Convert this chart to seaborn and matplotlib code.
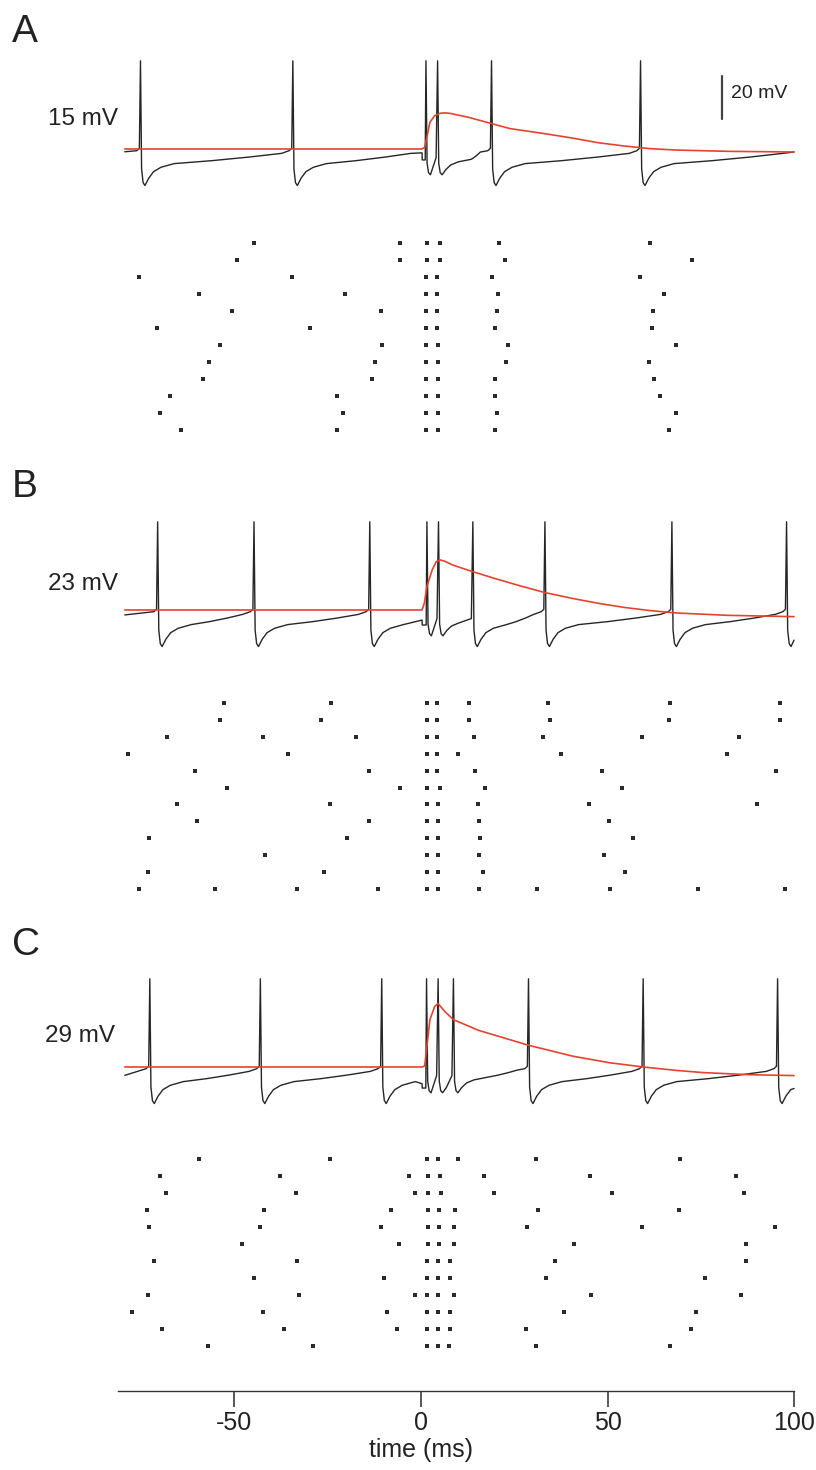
import seaborn as sns
import matplotlib.pyplot as plt
import numpy as np
import pandas as pd

# Membrane potential traces (black), EPSP alone (red) and spike rasters
# for three input sizes: 15, 23 and 29 mV.

panel_names = ["A", "B", "C"]
input_sizes = ["15 mV", "23 mV", "29 mV"]

# spike times of the example trace in each panel (ms)
spikes_a = [-75.1, -34.3, 1.34, 4.46, 18.9, 58.8]
spikes_b = [-70.5, -44.7, -13.7, 1.6, 4.7, 13.9, 33.2, 67.2, 97.9]
spikes_c = [-72.6, -43.0, -10.5, 1.5, 4.6, 8.7, 28.8, 59.5, 95.5]

start_mv = [-1.3, -2.3, -3.9]
pre_stim_mv = [-1.8, -4.7, -7.8]
post_stim_mv = [-5.1, -7.0, -9.8]
end_mv = [-1.4, -14.0, -10.0]

# EPSP alone (red traces)
epsp_a_t = [-79.3, 0.3, 1.0, 1.6, 2.4, 3.7, 5.1, 6.5, 8.0, 12.8, 18.7, 23.8, 33.6, 40.5, 47.5, 54.4, 61.4, 68.4, 82.3, 99.9]
epsp_a_mv = [0, 0, 0.8, 5.5, 12.4, 15.5, 16.6, 16.8, 16.5, 14.7, 11.9, 9.5, 7.0, 5.1, 2.9, 1.4, 0.15, -0.5, -1.1, -1.4]
epsp_b_t = [-79.3, 0.3, 0.9, 1.6, 3.0, 4.1, 5.1, 6.5, 8.5, 13.9, 19.7, 26.6, 33.2, 40.5, 47.5, 54.4, 61.4, 68.4, 82.3, 99.9]
epsp_b_mv = [0, 0, 3.1, 10.9, 18.6, 22.5, 23.3, 22.6, 20.9, 17.8, 14.7, 11.2, 8.1, 5.4, 3.1, 1.2, -0.3, -1.4, -2.5, -3.1]
epsp_c_t = [-79.3, 0.3, 1.0, 1.5, 2.4, 3.7, 4.6, 6.5, 8.7, 15.5, 23.8, 28.8, 40.7, 50.4, 59.5, 68.4, 75.5, 88.0, 99.9]
epsp_c_mv = [0, 0, 0.5, 8.0, 22.0, 28.2, 29.5, 25.6, 22.0, 17.0, 12.7, 10.1, 5.0, 2.0, 0, -1.6, -2.6, -3.6, -4.0]

# rasters: spike times for 12 trials per panel (ms)
raster_a = [
    [-44.6, -5.7, 1.7, 5.1, 21.0, 61.4],
    [-49.3, -5.7, 1.7, 5.1, 22.6, 72.6],
    [-75.4, -34.4, 1.3, 4.2, 18.9, 58.7],
    [-59.5, -20.3, 1.3, 4.2, 20.7, 65.2],
    [-50.6, -10.8, 1.3, 4.2, 20.4, 62.2],
    [-70.8, -29.6, 1.3, 4.2, 19.7, 61.9],
    [-53.8, -10.3, 1.3, 4.6, 23.2, 68.3],
    [-56.8, -12.2, 1.3, 4.6, 22.9, 61.0],
    [-58.4, -13.1, 1.3, 4.6, 19.9, 62.5],
    [-67.2, -22.4, 1.3, 4.6, 19.9, 63.9],
    [-69.9, -21.0, 1.3, 4.6, 20.4, 68.3],
    [-64.3, -22.4, 1.3, 4.6, 19.7, 66.3],
]
raster_b = [
    [-52.7, -24.2, 1.7, 4.2, 12.8, 33.9, 66.6, 96.2],
    [-53.8, -26.8, 1.7, 4.2, 12.8, 34.5, 66.3, 96.2],
    [-68.1, -42.3, -17.5, 1.7, 4.2, 14.3, 32.6, 59.2, 85.2],
    [-78.4, -35.6, 1.7, 4.2, 10.0, 37.5, 81.9],
    [-60.6, -13.8, 1.7, 4.2, 14.5, 48.5, 95.0],
    [-52.0, -5.7, 1.7, 5.1, 17.1, 53.8],
    [-65.4, -24.4, 1.7, 4.5, 15.3, 44.9, 90.1],
    [-59.9, -13.8, 1.7, 4.5, 15.5, 50.4],
    [-72.9, -19.9, 1.7, 4.5, 15.8, 56.8],
    [-41.7, 1.7, 4.5, 15.5, 48.9],
    [-73.1, -26.0, 1.7, 4.5, 16.5, 54.6],
    [-75.6, -55.1, -33.1, -11.4, 1.7, 4.5, 15.5, 31.2, 50.7, 74.2, 97.4],
]
raster_c = [
    [-59.4, -24.4, 1.5, 4.5, 10.0, 30.8, 69.3],
    [-69.8, -37.8, -3.2, 1.8, 5.1, 16.8, 45.2, 84.4],
    [-68.2, -33.4, -1.6, 1.8, 5.5, 19.6, 51.2, 86.4],
    [-73.4, -41.9, -8.1, 1.8, 4.8, 9.2, 31.4, 69.1],
    [-72.9, -43.2, -10.8, 1.8, 4.8, 8.8, 28.4, 59.2, 94.7],
    [-47.9, -5.9, 1.8, 4.8, 8.8, 41.0, 87.0],
    [-71.6, -33.2, 1.5, 4.5, 7.8, 35.9, 87.0],
    [-44.6, -9.8, 1.5, 4.5, 7.9, 33.6, 76.0],
    [-73.1, -32.6, -1.6, 1.5, 4.5, 8.8, 45.5, 85.8],
    [-77.4, -42.4, -9.2, 1.5, 4.5, 7.9, 38.4, 73.6],
    [-69.3, -36.8, -6.5, 1.5, 4.5, 7.9, 28.0, 72.4],
    [-57.1, -28.9, 1.5, 4.5, 7.6, 30.8, 66.6],
]

x_ticks = [-50, 0, 50, 100]

# waveform pieces (depth fractions of the AHP)
T0, T_END, STIM = -79.3, 99.9, 0.3
PEAK, AHP, BURST_AHP, BURST_THR = 41.0, -17.0, -12.0, -4.0
SHAPE = [(0.3, 0.55), (0.7, 0.92), (1.2, 1.0), (2.2, 0.8), (3.5, 0.62), (5.5, 0.5), (9.0, 0.4)]
RAMP_FRAC = [0.35, 0.7, 1.0]
RAMP_DEPTH = [0.32, 0.22, 0.12]


def build_trace(spikes, v0, v_pre, v_post, v_end):
    pts = [(T0, v0), (spikes[0] - 1.0, -0.8), (spikes[0] - 0.3, 0.3)]
    for i, ts in enumerate(spikes):
        depth = BURST_AHP if 0 < ts < 10 else AHP
        nxt = spikes[i + 1] if i + 1 < len(spikes) else None
        if nxt is None:
            kind, te = "end", T_END
        elif ts < STIM < nxt:
            kind, te = "stim", STIM
        else:
            kind, te = "spike", nxt
        L = te - ts
        limit = L if kind == "end" else L - 1.2
        pts.append((ts, PEAK))
        pts += [(ts + dt, f * depth) for dt, f in SHAPE if dt < limit]
        long_gap = L > (25 if kind == "stim" else 12)
        if long_gap:
            a, b = ts + 9.0, te - 3.0
            pts += [(a + f * (b - a), d * depth) for f, d in zip(RAMP_FRAC, RAMP_DEPTH)]
        if kind == "spike":
            if long_gap:
                pts += [(te - 1.0, -0.8), (te - 0.3, 0.3)]
            else:
                pts.append((te - 0.4, BURST_THR))
        elif kind == "stim":
            pts += [(STIM, v_pre), (STIM + 0.05, v_post), (nxt - 0.2, v_post)]
        else:
            pts.append((T_END, v_end))
    return pd.DataFrame(pts, columns=["time", "mV"])


sns.set_theme(style="ticks")
plt.rcParams["font.family"] = ["Liberation Sans", "DejaVu Sans"]

W, H = 816, 1470
XLIM = (-84.6, 101.5)
fig = plt.figure(figsize=(W / 100, H / 100), dpi=100)


def add_ax(top, bottom):
    return fig.add_axes([105 / W, 1 - bottom / H, 695 / W, (bottom - top) / H])


def ftext(x, y, s, **kw):
    fig.text(x / W, 1 - y / H, s, color="#222222", **kw)


spikes_all = [spikes_a, spikes_b, spikes_c]
epsp_all = [(epsp_a_t, epsp_a_mv), (epsp_b_t, epsp_b_mv), (epsp_c_t, epsp_c_mv)]
rasters = [raster_a, raster_b, raster_c]
baselines = [149, 610, 1067]
raster_rows = [(242.7, 430.0), (702.7, 889.3), (1159.3, 1346.0)]
letter_y = [42, 497, 955]
size_xy = [(48, 125), (48, 590), (45, 1042)]

for k in range(3):
    base = baselines[k]
    ax = add_ax(base - 94, base + 46)
    trace = build_trace(spikes_all[k], start_mv[k], pre_stim_mv[k], post_stim_mv[k], end_mv[k])
    sns.lineplot(data=trace, x="time", y="mV", ax=ax, sort=False, estimator=None,
                 color="#262626", linewidth=1.0)
    epsp = pd.DataFrame({"time": epsp_all[k][0], "mV": epsp_all[k][1]})
    sns.lineplot(data=epsp, x="time", y="mV", ax=ax, sort=False, estimator=None,
                 color="#e5432f", linewidth=1.2)
    ax.set_xlim(*XLIM)
    ax.set_ylim(-21.4, 43.7)
    ax.axis("off")
    if k == 0:
        # 20 mV scale bar
        ax.plot([80.5, 80.5], [14, 34], color="#444444", linewidth=1.6)
        ax.text(83.0, 26, "20 mV", ha="left", va="center", fontsize=14, color="#222222")

    r0, r1 = raster_rows[k]
    step = (r1 - r0) / 11
    rax = add_ax(r0 - step / 2, r1 + step / 2)
    dots = pd.DataFrame(
        [(t, trial + 1) for trial, times in enumerate(rasters[k]) for t in times],
        columns=["time", "trial"],
    )
    sns.scatterplot(data=dots, x="time", y="trial", ax=rax, marker="s", s=5,
                    color="#2a2a2a", linewidth=0)
    rax.set_xlim(*XLIM)
    rax.set_ylim(12.5, 0.5)
    rax.axis("off")

    ftext(12, letter_y[k], panel_names[k], fontsize=28, ha="left", va="baseline")
    ftext(size_xy[k][0], size_xy[k][1], input_sizes[k], fontsize=17.5, ha="left", va="baseline")

# time axis: a transparent axes whose bottom spine is the axis line
tax = add_ax(1361, 1391)
tax.set_xlim(*XLIM)
tax.set_ylim(0, 1)
tax.set_yticks([])
sns.despine(ax=tax, left=True)
tax.spines["bottom"].set_bounds(-81, 100)
tax.spines["bottom"].set_color("#333333")
tax.spines["bottom"].set_linewidth(1.0)
tax.set_xticks(x_ticks)
tax.set_xticklabels([str(t) for t in x_ticks])
tax.tick_params(axis="x", which="major", direction="out", bottom=True, top=False,
                length=11.5, width=1.1, color="#2a2a2a", pad=3,
                labelsize=18, labelcolor="#222222")
tax.patch.set_alpha(0)
tax.set_xlabel("time (ms)", fontsize=18, color="#222222", va="center")
# label centre 59 px below the axis line (axes is 30 px tall)
tax.xaxis.set_label_coords((421 - 105) / 695, -59 / 30)

fig.savefig("out.png", dpi=100)
